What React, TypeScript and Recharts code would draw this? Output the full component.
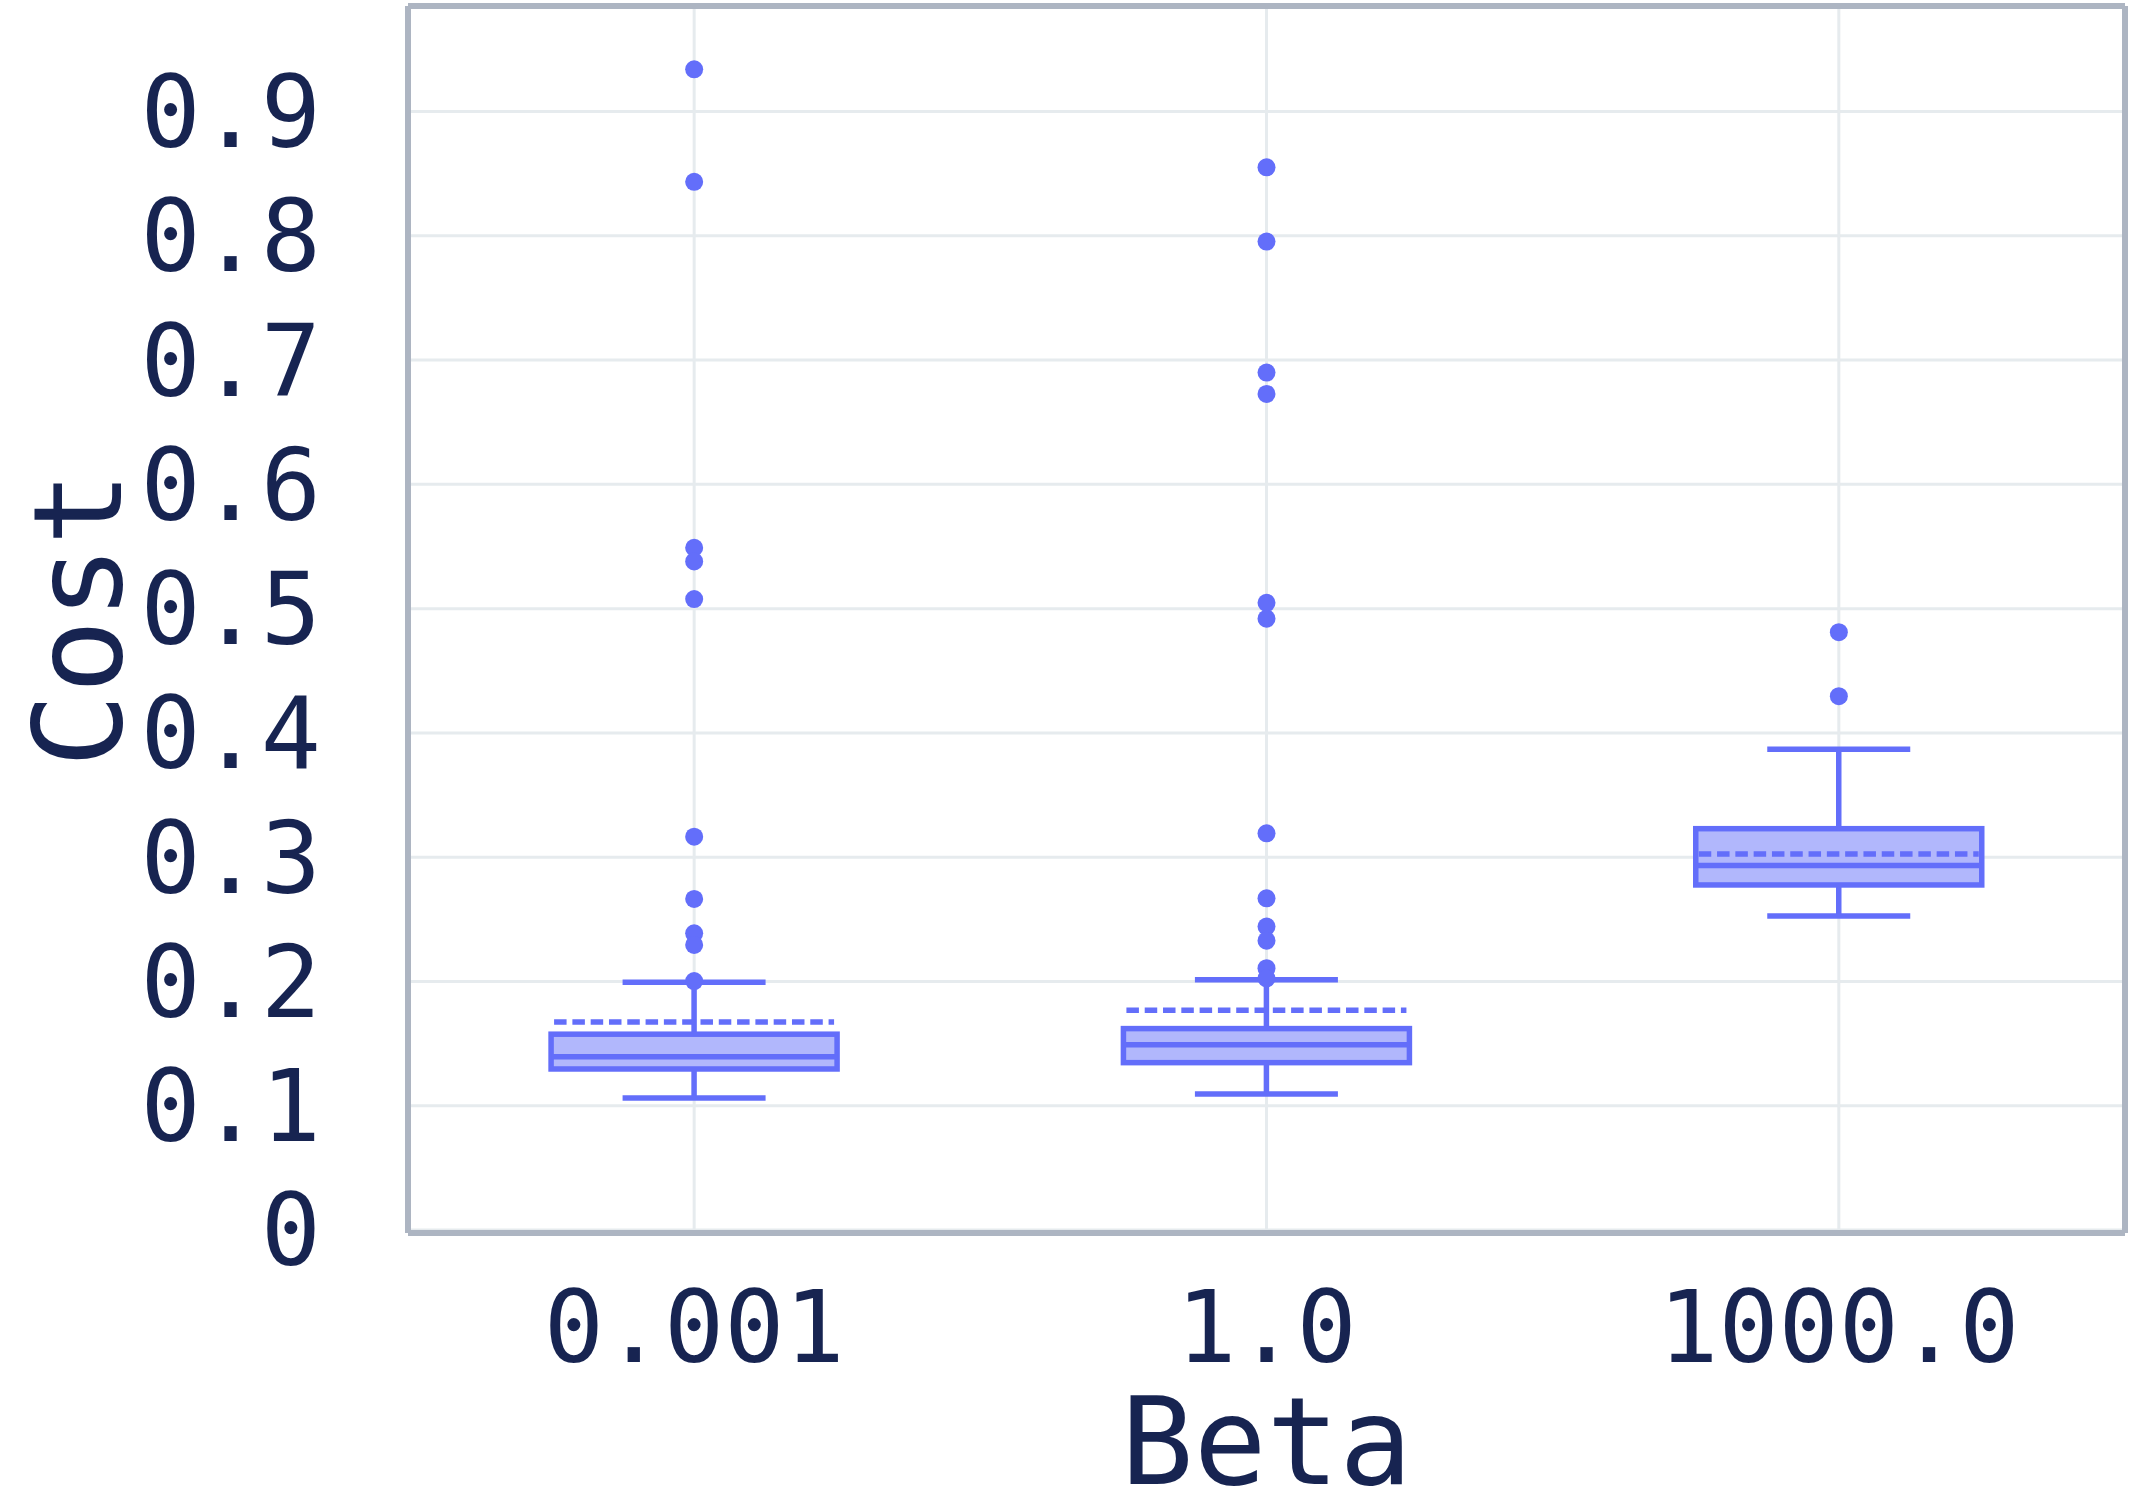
import React from 'react';
import { ComposedChart, Bar, Scatter, XAxis, YAxis, CartesianGrid } from 'recharts';

const categories = ['0.001', '1.0', '1000.0'];
const lowerWhisker = [0.1062, 0.1094, 0.2527];
const q1Values = [0.1295, 0.1346, 0.2776];
const medianValues = [0.1394, 0.1491, 0.2932];
const q3Values = [0.1575, 0.162, 0.3229];
const upperWhisker = [0.1993, 0.2014, 0.3868];
const meanValues = [0.1674, 0.1768, 0.3026];
const outliersBeta0001 = [0.934, 0.8435, 0.549, 0.538, 0.5077, 0.3165, 0.2664, 0.2387, 0.2293, 0.2003];
const outliersBeta1 = [0.8552, 0.7954, 0.69, 0.6728, 0.5047, 0.4919, 0.3192, 0.2669, 0.2441, 0.2328, 0.2106, 0.2025];
const outliersBeta1000 = [0.481, 0.4295];
const yTicks = [0, 0.1, 0.2, 0.3, 0.4, 0.5, 0.6, 0.7, 0.8, 0.9];
const yDomain = [-0.0025, 0.985];

const BLUE = '#636efa';
const FILL = '#b1b7fc';
const TEXT = '#172451';
const FRAME = '#adb5c2';
const GRID = '#e6ebee';
const FONT = "'DejaVu Sans Mono', 'Liberation Mono', monospace";

const boxData = categories.map((c, i) => ({
  beta: c,
  lo: lowerWhisker[i],
  q1: q1Values[i],
  med: medianValues[i],
  q3: q3Values[i],
  hi: upperWhisker[i],
  mean: meanValues[i],
}));

const outlierGroups = [outliersBeta0001, outliersBeta1, outliersBeta1000];
const outlierData = outlierGroups.flatMap((arr, i) => arr.map((v) => ({ beta: categories[i], cost: v })));

const BoxShape = (props: any) => {
  const { x, y, width, height, payload } = props;
  if (x == null || y == null) return null;
  const top = Math.min(y, y + height);
  const bot = Math.max(y, y + height);
  const { lo, hi, q1, med, q3, mean } = payload;
  const py = (v: number) => top + ((bot - top) * (hi - v)) / (hi - lo);
  const cx = x + width / 2;
  const capHalf = width / 4;
  const sw = 5.5;
  return (
    <g>
      <line x1={cx} x2={cx} y1={py(hi)} y2={py(q3)} stroke={BLUE} strokeWidth={sw} />
      <line x1={cx} x2={cx} y1={py(q1)} y2={py(lo)} stroke={BLUE} strokeWidth={sw} />
      <line x1={cx - capHalf} x2={cx + capHalf} y1={py(hi)} y2={py(hi)} stroke={BLUE} strokeWidth={sw} />
      <line x1={cx - capHalf} x2={cx + capHalf} y1={py(lo)} y2={py(lo)} stroke={BLUE} strokeWidth={sw} />
      <rect x={x} y={py(q3)} width={width} height={py(q1) - py(q3)} fill={FILL} stroke={BLUE} strokeWidth={sw} />
      <line x1={x} x2={x + width} y1={py(med)} y2={py(med)} stroke={BLUE} strokeWidth={sw} />
      <line x1={x + 3} x2={x + width - 3} y1={py(mean)} y2={py(mean)} stroke={BLUE} strokeWidth={sw} strokeDasharray="12.5 5.8" />
    </g>
  );
};

const Dot = (props: any) => {
  const { cx, cy } = props;
  if (cx == null || cy == null) return null;
  return <circle cx={cx} cy={cy} r={9} fill={BLUE} />;
};

const CostLabel = (props: any) => {
  const { viewBox } = props;
  if (!viewBox) return null;
  const bx = viewBox.x + 121;
  const by = viewBox.y + viewBox.height / 2;
  return (
    <text x={bx} y={by} transform={`rotate(-90, ${bx}, ${by})`} textAnchor="middle" fill={TEXT} fontSize={123} fontFamily={FONT}>
      Cost
    </text>
  );
};

export default function App() {
  return (
    <div style={{ position: 'absolute', left: 0, top: 0, background: '#fff' }}>
      <ComposedChart
        width={2129}
        height={1505}
        data={boxData}
        margin={{ top: 5, right: 0, bottom: 0, left: 0 }}
        barCategoryGap="25%"
        style={{ fontFamily: FONT }}
      >
        <CartesianGrid stroke={GRID} strokeWidth={3} />
        <XAxis
          dataKey="beta"
          type="category"
          allowDuplicatedCategory={false}
          height={272}
          tickLine={false}
          tickSize={0}
          tickMargin={58}
          axisLine={{ stroke: FRAME, strokeWidth: 6 }}
          tick={{ fill: TEXT, fontSize: 100, fontFamily: FONT }}
          label={{ value: 'Beta', position: 'insideBottom', offset: 21, fill: TEXT, fontSize: 121, fontFamily: FONT }}
        />
        <XAxis
          xAxisId="top"
          dataKey="beta"
          type="category"
          allowDuplicatedCategory={false}
          orientation="top"
          height={1}
          tick={false}
          tickLine={false}
          axisLine={{ stroke: FRAME, strokeWidth: 6 }}
        />
        <YAxis
          type="number"
          domain={yDomain}
          ticks={yTicks}
          width={408}
          tickLine={false}
          tickSize={0}
          tickMargin={87}
          axisLine={{ stroke: FRAME, strokeWidth: 6 }}
          tick={{ fill: TEXT, fontSize: 100, fontFamily: FONT }}
          tickFormatter={(v: number) => (v === 0 ? '0' : v.toFixed(1))}
          allowDataOverflow
          label={<CostLabel />}
        />
        <YAxis
          yAxisId="right"
          orientation="right"
          type="number"
          domain={yDomain}
          width={4}
          tick={false}
          tickLine={false}
          axisLine={{ stroke: FRAME, strokeWidth: 6 }}
        />
        <Bar dataKey={(d: any) => [d.lo, d.hi]} shape={<BoxShape />} isAnimationActive={false} activeBar={false} />
        <Scatter data={outlierData} dataKey="cost" shape={<Dot />} isAnimationActive={false} />
      </ComposedChart>
    </div>
  );
}
